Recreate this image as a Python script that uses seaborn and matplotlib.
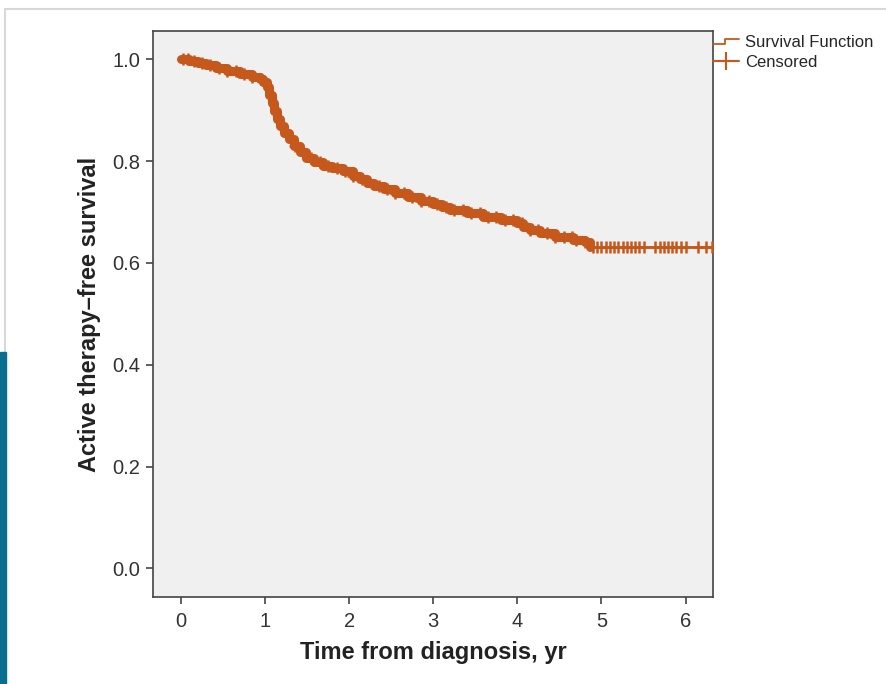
import numpy as np
import pandas as pd
import matplotlib
matplotlib.use("Agg")
import matplotlib.pyplot as plt
import seaborn as sns
from matplotlib.lines import Line2D
from matplotlib.patches import Rectangle
from matplotlib.legend_handler import HandlerBase

# Kaplan-Meier step points
step_times = [0, 0.1, 0.2, 0.3, 0.42, 0.55, 0.7, 0.85, 0.94, 0.98, 1.02, 1.05, 1.08,
              1.11, 1.14, 1.18, 1.22, 1.28, 1.34, 1.41, 1.49, 1.58, 1.69, 1.8, 1.93,
              2.05, 2.13, 2.21, 2.3, 2.41, 2.55, 2.7, 2.85, 3.0, 3.1, 3.2, 3.4, 3.59,
              3.8, 3.99, 4.07, 4.15, 4.27, 4.45, 4.66, 4.8, 4.86, 6.33]
step_surv = [1.0, 0.996, 0.992, 0.988, 0.983, 0.978, 0.972, 0.966, 0.961, 0.955, 0.946,
             0.93, 0.915, 0.898, 0.882, 0.869, 0.856, 0.843, 0.83, 0.818, 0.807, 0.798,
             0.791, 0.786, 0.781, 0.771, 0.764, 0.758, 0.751, 0.745, 0.737, 0.73, 0.722,
             0.716, 0.71, 0.705, 0.698, 0.691, 0.685, 0.678, 0.671, 0.665, 0.658, 0.652,
             0.645, 0.641, 0.632, 0.632]

# end of the densely censored stretch (marks merge into a thick band)
dense_until = 4.86

# censored observation times
censor_times = [0.02, 0.08, 0.15, 0.25, 0.35, 0.45, 0.55, 0.65, 0.75, 0.85, 0.95,
                1.35, 1.55, 1.65, 1.75, 1.85, 1.95, 2.05, 2.15, 2.35, 2.45, 2.55, 2.65,
                2.75, 2.85, 2.95, 3.05, 3.15, 3.25, 3.35, 3.45, 3.55, 3.65, 3.75, 3.85,
                3.95, 4.05, 4.15, 4.25, 4.35, 4.45, 4.55, 4.65, 4.7, 4.8, 4.9, 4.95,
                5.0, 5.05, 5.1, 5.15, 5.2, 5.25, 5.3, 5.35, 5.4, 5.45, 5.5, 5.64,
                5.69, 5.74, 5.79, 5.84, 5.89, 5.95, 6.0, 6.15, 6.24, 6.32]

x_ticks = [0, 1, 2, 3, 4, 5, 6]
y_ticks = [0.0, 0.2, 0.4, 0.6, 0.8, 1.0]

color = "#c5581a"

curve = pd.DataFrame({"time": step_times, "surv": step_surv})
dense = curve[curve["time"] <= dense_until]
st = np.array(step_times)
sv = np.array(step_surv)
idx = np.searchsorted(st, np.array(censor_times), side="right") - 1
cens = pd.DataFrame({"time": censor_times, "surv": sv[idx]})

sns.set_theme(style="ticks")
plt.rcParams["font.family"] = ["Liberation Sans", "DejaVu Sans"]

fig = plt.figure(figsize=(8.86, 6.84), dpi=100)
ax = fig.add_axes([153 / 886, 87 / 684, 560 / 886, 566 / 684])
ax.set_facecolor("#f0f0f0")

sns.lineplot(data=curve, x="time", y="surv", ax=ax, color=color, linewidth=1.8,
             drawstyle="steps-post", estimator=None, sort=False)
sns.lineplot(data=dense, x="time", y="surv", ax=ax, color=color, linewidth=6.5,
             drawstyle="steps-post", estimator=None, sort=False,
             solid_joinstyle="round", solid_capstyle="round")
sns.scatterplot(data=cens, x="time", y="surv", ax=ax, marker="+", color=color,
                s=80, linewidth=1.8, zorder=3)

ax.set_xlim(-0.333, 6.326)
ax.set_ylim(-0.056, 1.0556)
ax.set_xticks(x_ticks)
ax.set_xticklabels([str(t) for t in x_ticks])
ax.set_yticks(y_ticks)
ax.set_yticklabels([f"{t:.1f}" for t in y_ticks])
ax.tick_params(axis="both", direction="out", length=5, width=1.2, colors="#444444",
               labelsize=14.5, labelcolor="#333333")
ax.tick_params(axis="x", pad=6)
ax.tick_params(axis="y", pad=4)
for s in ax.spines.values():
    s.set_color("#444444")
    s.set_linewidth(1.2)
ax.set_xlabel("Time from diagnosis, yr", fontsize=17, fontweight="bold", color="#222222", labelpad=7)
ax.set_ylabel("Active therapy\u2013free survival", fontsize=17, fontweight="bold", color="#222222", labelpad=8)


class StepHandler(HandlerBase):
    def create_artists(self, legend, orig_handle, xdescent, ydescent, width, height,
                       fontsize, trans):
        xs = [-xdescent, width * 0.45, width * 0.45, width]
        y0, y1 = height * 0.25, height * 0.7
        ln = Line2D(xs, [y0, y0, y1, y1], color=orig_handle.get_color(), lw=1.3,
                    transform=trans)
        return [ln]


h_surv = Line2D([0], [0], color=color, lw=1.3)
h_cens = Line2D([0], [0], color=color, lw=1.5, marker="+", markersize=13, markeredgewidth=1.5)
fig.legend([h_surv, h_cens], ["Survival Function", "Censored"], loc="upper left",
           bbox_to_anchor=(706 / 886, 1 - 28 / 684), frameon=False, fontsize=12,
           handlelength=1.6, handletextpad=0.35, labelspacing=0.3, borderaxespad=0,
           handler_map={h_surv: StepHandler()})

# page decorations: grey frame line and blue strip
fig.add_artist(Line2D([5 / 886, 1], [1 - 9 / 684, 1 - 9 / 684], transform=fig.transFigure,
                      color="#d8d8d8", lw=1.5))
fig.add_artist(Line2D([5 / 886, 5 / 886], [0, 1 - 9 / 684], transform=fig.transFigure,
                      color="#d8d8d8", lw=1.5))
fig.add_artist(Rectangle((0, 0), 6 / 886, 332 / 684, transform=fig.transFigure,
                         color="#0a6f8f", zorder=5))

fig.savefig("out.png", dpi=100, facecolor="white")
